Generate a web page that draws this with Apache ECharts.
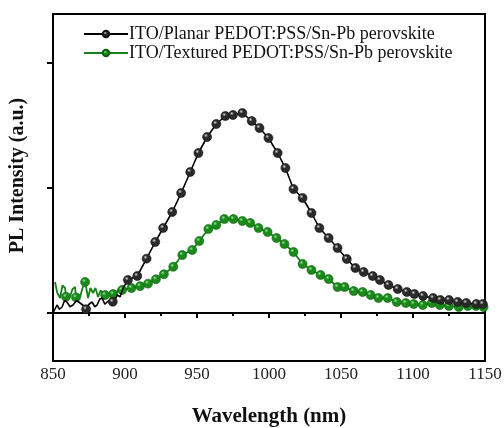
<!DOCTYPE html>
<html>
<head>
<meta charset="utf-8">
<script src="https://cdn.jsdelivr.net/npm/echarts@6/dist/echarts.min.js"></script>
<style>
  html, body { margin: 0; padding: 0; background: #fff; }
  #main { width: 504px; height: 428px; }
</style>
</head>
<body>
<div id="main"></div>
<script>
// wavelength (nm) / intensity (a.u.)
const planarNoiseX = [850, 852.8, 854.5, 856.3, 858, 859.7, 861.8, 863.9, 866.3, 868.8, 871, 875, 877.1, 879, 880.6, 882.4, 884.1, 886, 887.6, 889.3, 893, 894.5, 896.6, 898.7];
const planarNoiseY = [0.0, 0.064, 0.03, 0.048, 0.1, 0.088, 0.05, 0.064, 0.1, 0.08, 0.06, 0.07, 0.088, 0.05, 0.064, 0.11, 0.12, 0.07, 0.088, 0.1, 0.1, 0.144, 0.13, 0.2];
const planarX = [873, 891.5, 902, 908.5, 915, 921, 926.5, 932.8, 939, 945.3, 951, 957, 963.4, 969.7, 975, 981.5, 988, 993.4, 999.6, 1006, 1011.4, 1017, 1023.3, 1029.5, 1035, 1041.4, 1047.6, 1054, 1060, 1065.7, 1072, 1077, 1083, 1089.4, 1095.7, 1101, 1107, 1114, 1119, 1125, 1131, 1137, 1144, 1148.5];
const planarY = [0.03, 0.09, 0.264, 0.296, 0.435, 0.568, 0.68, 0.808, 0.96, 1.128, 1.28, 1.408, 1.512, 1.576, 1.584, 1.6, 1.536, 1.48, 1.4, 1.28, 1.16, 0.992, 0.92, 0.8, 0.68, 0.6, 0.52, 0.432, 0.36, 0.328, 0.296, 0.264, 0.224, 0.192, 0.168, 0.152, 0.136, 0.12, 0.104, 0.104, 0.088, 0.08, 0.072, 0.072];

const texturedNoiseX = [851.4, 853, 854.9, 856.6, 858.4, 860, 861.8, 863.5, 865.3, 867, 868.8, 870.5, 874.4, 876, 877.8, 879.5, 881.3, 883, 884.8, 888.3, 890, 893.5, 895.2];
const texturedNoiseY = [0.248, 0.16, 0.12, 0.22, 0.2, 0.15, 0.128, 0.19, 0.208, 0.15, 0.128, 0.2, 0.12, 0.2, 0.16, 0.2, 0.128, 0.18, 0.16, 0.128, 0.17, 0.15, 0.184];
const texturedX = [859, 866, 872.3, 886.2, 891.8, 898, 904.5, 910.5, 916, 921.5, 927, 933.5, 939.8, 946.7, 951.6, 957.9, 963.4, 969, 975.3, 981.5, 987, 992.7, 999, 1005.2, 1010.7, 1017, 1023.3, 1029.5, 1035.8, 1041.4, 1047.6, 1052.5, 1058.8, 1065, 1070.6, 1076, 1082.4, 1088.7, 1095, 1100.5, 1106.8, 1113, 1118.6, 1124.9, 1131.8, 1138, 1143.7, 1149];
const texturedY = [0.13, 0.125, 0.248, 0.144, 0.152, 0.184, 0.2, 0.215, 0.235, 0.27, 0.31, 0.37, 0.464, 0.504, 0.576, 0.672, 0.704, 0.752, 0.752, 0.736, 0.72, 0.68, 0.648, 0.6, 0.552, 0.488, 0.392, 0.344, 0.304, 0.272, 0.208, 0.208, 0.176, 0.168, 0.144, 0.12, 0.12, 0.088, 0.08, 0.072, 0.064, 0.08, 0.064, 0.056, 0.048, 0.056, 0.056, 0.048];

const seriesNames = ['ITO/Planar PEDOT:PSS/Sn-Pb perovskite', 'ITO/Textured PEDOT:PSS/Sn-Pb perovskite'];
const xTicks = [850, 900, 950, 1000, 1050, 1100, 1150];
const yTicks = [0, 1, 2];

function buildData(noiseX, noiseY, markX, markY) {
  const pts = [];
  noiseX.forEach((x, i) => pts.push({ value: [x, noiseY[i]], symbol: 'none' }));
  markX.forEach((x, i) => pts.push({ value: [x, markY[i]] }));
  pts.sort((a, b) => a.value[0] - b.value[0]);
  return pts;
}

function ball(light, dark) {
  return {
    type: 'radial', x: 0.38, y: 0.35, r: 0.6,
    colorStops: [{ offset: 0, color: light }, { offset: 0.35, color: dark }, { offset: 1, color: dark }]
  };
}

const font = '"Liberation Serif", "Times New Roman", serif';

const chart = echarts.init(document.getElementById('main'), null, { renderer: 'canvas' });
chart.setOption({
  animation: false,
  grid: {
    left: 53, right: 19, top: 14, bottom: 67,
    outerBoundsMode: 'none',
    show: true, borderColor: '#000', borderWidth: 2
  },
  legend: {
    orient: 'vertical',
    left: 78, top: 20,
    itemWidth: 44, itemHeight: 8, itemGap: 1,
    textStyle: { fontFamily: font, fontSize: 18, color: '#111', padding: [0, 0, 0, -4] },
    data: seriesNames
  },
  xAxis: {
    type: 'value',
    min: 850, max: 1150, interval: 50,
    name: 'Wavelength (nm)',
    nameLocation: 'middle', nameGap: 45,
    nameTextStyle: { fontFamily: font, fontSize: 21, fontWeight: 'bold', color: '#111' },
    axisLine: { show: true, lineStyle: { color: '#000', width: 2 } },
    axisTick: { show: true, inside: false, length: 5, lineStyle: { color: '#000', width: 2 } },
    minorTick: { show: true, splitNumber: 2, length: 3, lineStyle: { color: '#000', width: 2 } },
    splitLine: { show: false },
    axisLabel: {
      fontFamily: font, fontSize: 17, color: '#222', margin: 5,
      customValues: xTicks,
      formatter: (v) => String(v)
    }
  },
  yAxis: {
    type: 'value',
    min: -0.384, max: 2.392,
    name: 'PL Intensity (a.u.)',
    nameLocation: 'middle', nameGap: 25,
    nameTextStyle: { fontFamily: font, fontSize: 20, fontWeight: 'bold', color: '#111', padding: [0, 0, 0, 24] },
    axisLine: { show: true, lineStyle: { color: '#000', width: 2 } },
    axisTick: { show: true, inside: false, length: 6, lineStyle: { color: '#000', width: 2 }, customValues: yTicks },
    axisLabel: { show: false },
    splitLine: { show: false }
  },
  series: [
    {
      name: seriesNames[0],
      type: 'line',
      data: buildData(planarNoiseX, planarNoiseY, planarX, planarY),
      symbol: 'circle', symbolSize: 9,
      lineStyle: { color: '#000', width: 1.6 },
      itemStyle: { color: ball('#d8d8d8', '#2a2a2a'), borderColor: '#111', borderWidth: 0.6 },
      z: 3
    },
    {
      name: seriesNames[1],
      type: 'line',
      data: buildData(texturedNoiseX, texturedNoiseY, texturedX, texturedY),
      symbol: 'circle', symbolSize: 9,
      lineStyle: { color: '#17801a', width: 1.8 },
      itemStyle: { color: ball('#9be89b', '#1a8a1a'), borderColor: '#0d5f10', borderWidth: 0.6 },
      z: 2
    }
  ]
});
</script>
</body>
</html>
